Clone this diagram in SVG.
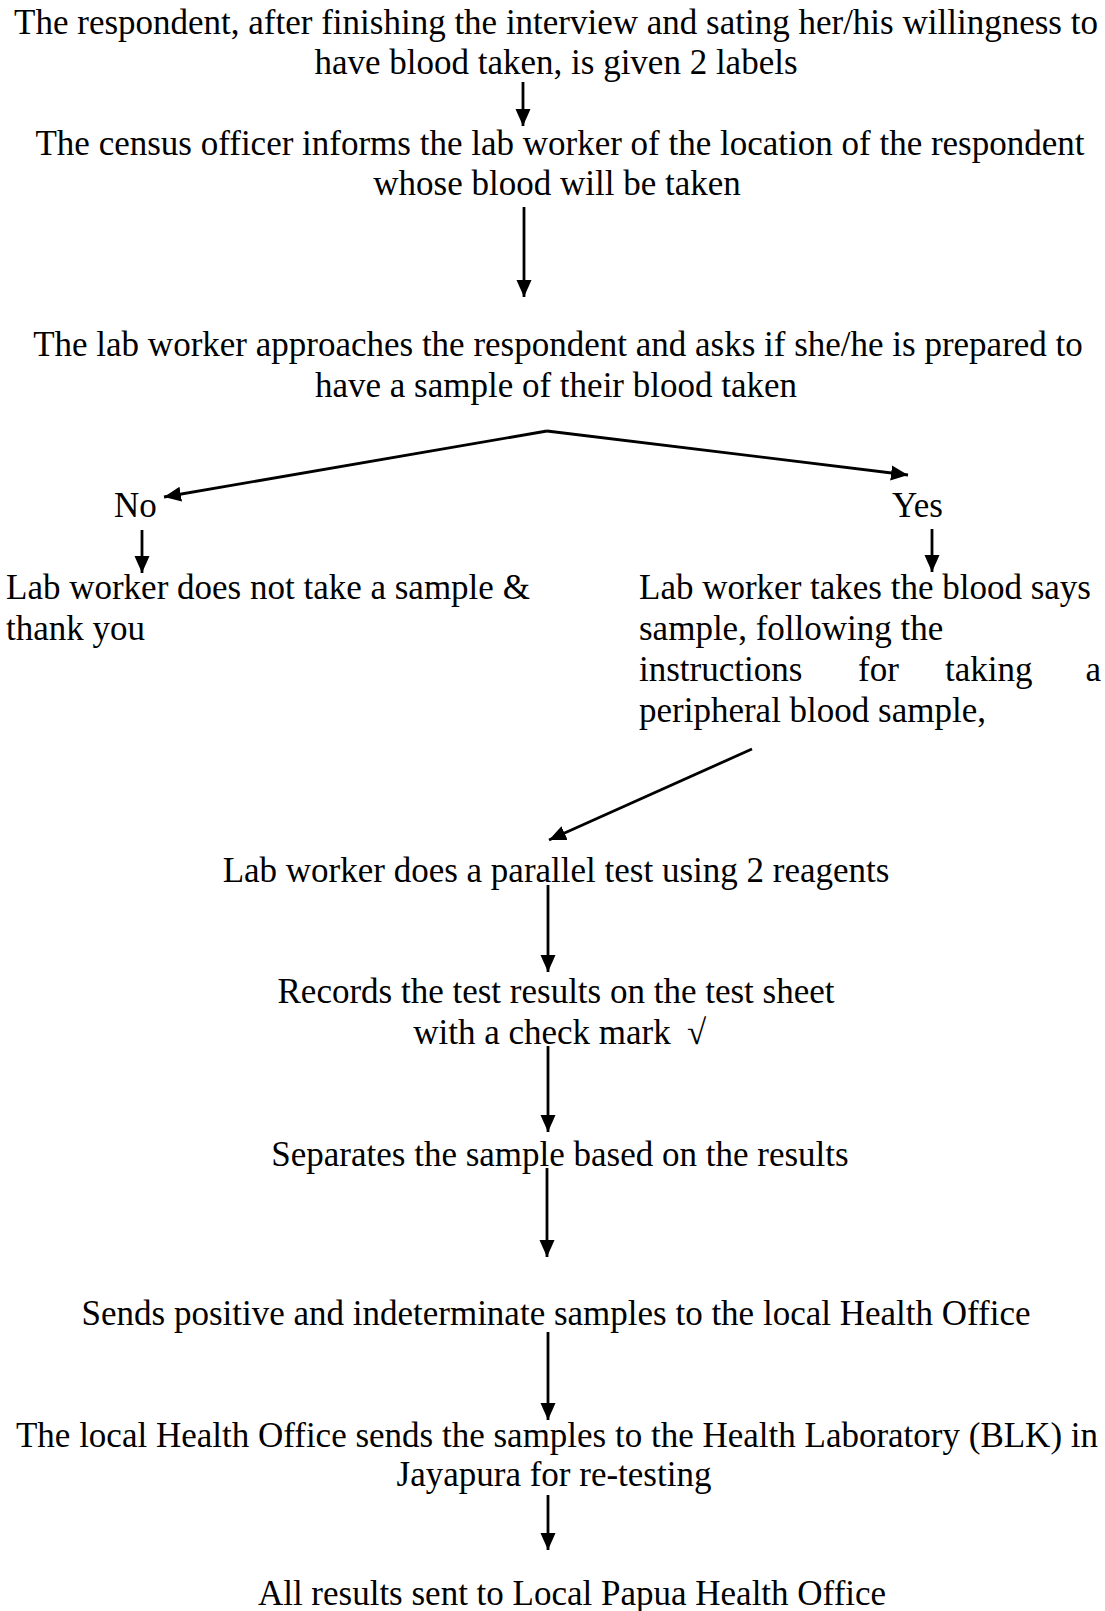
<svg xmlns="http://www.w3.org/2000/svg" width="1105" height="1611" viewBox="0 0 1105 1611">
<style>
text{font-family:"Liberation Serif","Times New Roman",serif;font-size:35px;fill:#000}
.c{text-anchor:middle}
.e{text-anchor:end}
.conn line{stroke:#000;stroke-width:2.8;fill:none}
</style>
<defs>
<marker id="ah" markerUnits="userSpaceOnUse" markerWidth="19" markerHeight="17" refX="17" refY="8" orient="auto">
<path d="M0,0.5 L17,8 L0,15.5 Z" fill="#000"/>
</marker>
</defs>
<rect width="1105" height="1611" fill="#fff"/>
<g id="n1"><text class="c" x="556" y="34">The respondent, after finishing the interview and sating her/his willingness to</text><text class="c" x="556" y="74">have blood taken, is given 2 labels</text></g>
<g id="n2"><text class="c" x="560" y="155">The census officer informs the lab worker of the location of the respondent</text><text class="c" x="557" y="195">whose blood will be taken</text></g>
<g id="n3"><text class="c" x="558" y="356">The lab worker approaches the respondent and asks if she/he is prepared to</text><text class="c" x="556" y="397">have a sample of their blood taken</text></g>
<g id="no"><text x="114" y="517">No</text></g>
<g id="yes"><text x="892" y="517">Yes</text></g>
<g id="n4"><text x="6" y="599">Lab worker does not take a sample &amp;</text><text x="6" y="640">thank you</text></g>
<g id="n5"><text x="639" y="599">Lab worker takes the blood says</text><text x="639" y="640">sample, following the</text><text x="639" y="681">instructions</text><text x="858" y="681">for</text><text x="945" y="681">taking</text><text class="e" x="1101" y="681">a</text><text x="639" y="722">peripheral blood sample,</text></g>
<g id="n6"><text class="c" x="556" y="882">Lab worker does a parallel test using 2 reagents</text></g>
<g id="n7"><text class="c" x="556" y="1003">Records the test results on the test sheet</text><text class="c" x="542" y="1044">with a check mark</text><text x="687" y="1044">√</text></g>
<g id="n8"><text class="c" x="560" y="1166">Separates the sample based on the results</text></g>
<g id="n9"><text class="c" x="556" y="1325">Sends positive and indeterminate samples to the local Health Office</text></g>
<g id="n10"><text class="c" x="557" y="1447">The local Health Office sends the samples to the Health Laboratory (BLK) in</text><text class="c" x="554" y="1486">Jayapura for re-testing</text></g>
<g id="n11"><text class="c" x="572" y="1605">All results sent to Local Papua Health Office</text></g>
<g class="conn">
<line x1="523" y1="82" x2="523" y2="126" marker-end="url(#ah)"/>
<line x1="524" y1="207" x2="524" y2="297" marker-end="url(#ah)"/>
<line x1="547" y1="431" x2="164" y2="497" marker-end="url(#ah)"/>
<line x1="547" y1="431" x2="908" y2="475" marker-end="url(#ah)"/>
<line x1="142" y1="530" x2="142" y2="573" marker-end="url(#ah)"/>
<line x1="932" y1="529" x2="932" y2="572" marker-end="url(#ah)"/>
<line x1="752" y1="749" x2="549" y2="840" marker-end="url(#ah)"/>
<line x1="548" y1="885" x2="548" y2="972" marker-end="url(#ah)"/>
<line x1="548" y1="1046" x2="548" y2="1132" marker-end="url(#ah)"/>
<line x1="547" y1="1168" x2="547" y2="1257" marker-end="url(#ah)"/>
<line x1="548" y1="1332" x2="548" y2="1420" marker-end="url(#ah)"/>
<line x1="548" y1="1495" x2="548" y2="1550" marker-end="url(#ah)"/>
</g>
</svg>
